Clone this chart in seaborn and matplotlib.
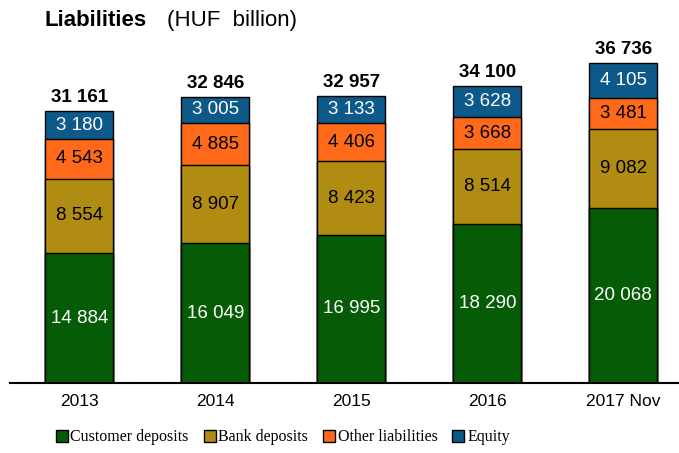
import pandas as pd
import numpy as np
import matplotlib.pyplot as plt
import seaborn as sns
from matplotlib.lines import Line2D

years = ['2013', '2014', '2015', '2016', '2017 Nov']
customer = [14884, 16049, 16995, 18290, 20068]
bank = [8554, 8907, 8423, 8514, 9082]
other = [4543, 4885, 4406, 3668, 3481]
equity = [3180, 3005, 3133, 3628, 4105]
totals = [31161, 32846, 32957, 34100, 36736]

names = ['Customer deposits', 'Bank deposits', 'Other liabilities', 'Equity']
colors = ['#065c06', '#b08c12', '#ff6a1a', '#0d5a8a']
txt_colors = ['white', 'black', 'black', 'white']

sns.set_style('white')
plt.rcParams['font.family'] = ['Liberation Sans', 'DejaVu Sans']
plt.rcParams['text.color'] = 'black'
plt.rcParams['xtick.color'] = 'black'

df = pd.DataFrame({'year': years, 'customer': customer, 'bank': bank,
                   'other': other, 'equity': equity})
layers = ['customer', 'bank', 'other', 'equity']
cum = df[layers].cumsum(axis=1)

fig = plt.figure(figsize=(6.79, 4.53), dpi=100)
ax = fig.add_axes([0.0147, 0.1545, 0.9853, 0.77])

# draw cumulative bars from tallest down so they look stacked
for i in range(3, -1, -1):
    sns.barplot(x=df['year'], y=cum[layers[i]], color=colors[i], width=0.5,
                edgecolor='black', linewidth=1, saturation=1, ax=ax)

def fmt(v):
    return f'{v:,}'.replace(',', ' ')

for j in range(len(years)):
    base = 0
    for i, col in enumerate(layers):
        v = df[col][j]
        ax.text(j, base + v / 2, fmt(v), ha='center', va='center',
                color=txt_colors[i], fontsize=13.5)
        base += v
    ax.text(j, totals[j] + 550, fmt(totals[j]), ha='center', va='bottom',
            fontsize=13.5, fontweight='bold')

ax.set_xlim(-0.51, 4.41)
ax.set_ylim(0, 40000)
ax.set_xlabel('')
ax.set_ylabel('')
ax.set_yticks([])
ax.tick_params(axis='x', length=0, labelsize=12.5, pad=8, labelcolor='black')
for s in ['top', 'right', 'left']:
    ax.spines[s].set_visible(False)
ax.spines['bottom'].set_color('black')
ax.spines['bottom'].set_linewidth(1.5)

fig.text(0.066, 0.954, 'Liabilities', fontsize=16, fontweight='bold', va='center')
fig.text(0.246, 0.954, '(HUF  billion)', fontsize=16, va='center')

handles = [Line2D([], [], marker='s', linestyle='', markersize=8,
                  markerfacecolor=c, markeredgecolor='black', markeredgewidth=1)
           for c in colors]
fig.legend(handles, names, loc='center', bbox_to_anchor=(0.415, 0.035), ncol=4,
           frameon=False, handletextpad=0.05, columnspacing=0.8,
           handlelength=1.0, prop={'family': 'Liberation Serif', 'size': 11.5})

fig.savefig('out.png', dpi=100)
